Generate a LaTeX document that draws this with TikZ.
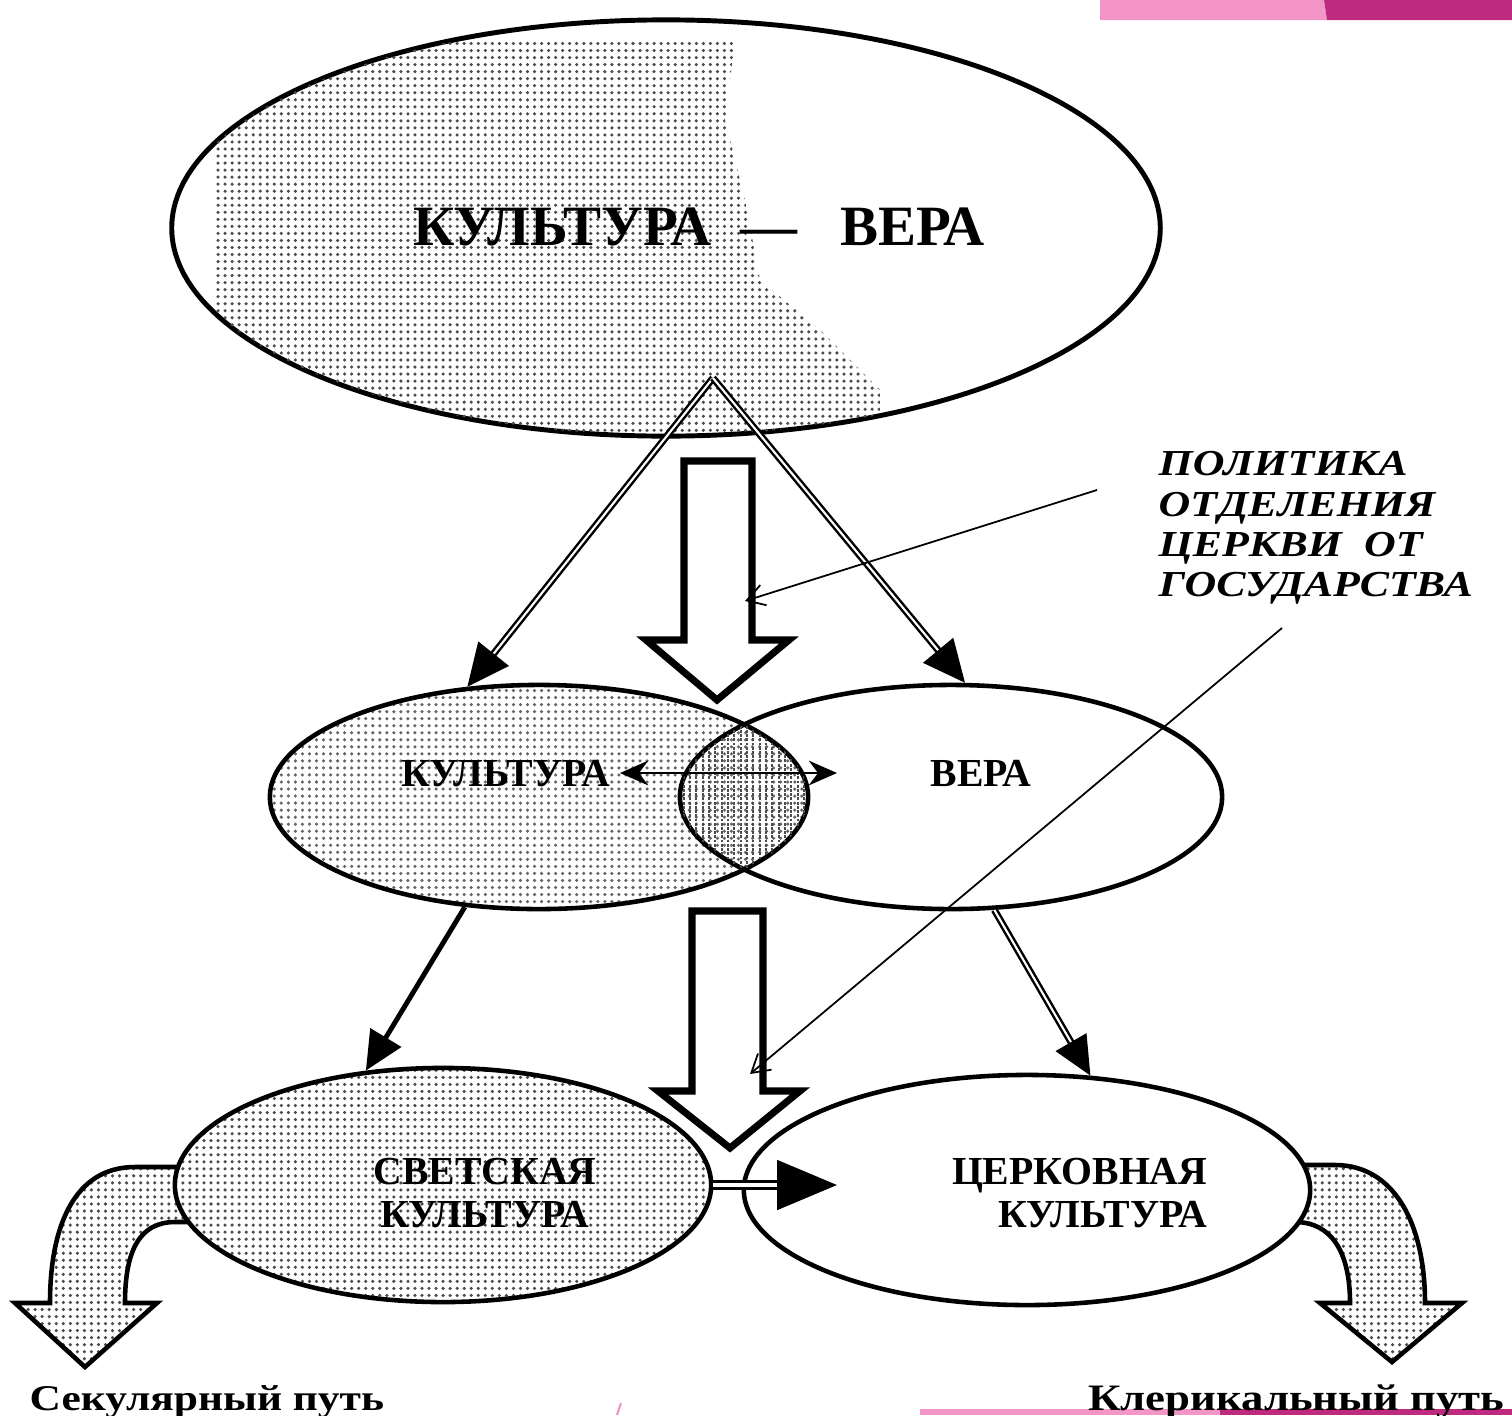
\documentclass[tikz,border=0pt]{standalone}
\usepackage{fontspec}
\setmainfont{Liberation Serif}
\newfontfamily\widefont[FakeStretch=1.2]{Liberation Serif}
\usetikzlibrary{shapes.geometric,arrows.meta,patterns}

\definecolor{pinklight}{HTML}{F495C8}
\definecolor{pinkdark}{HTML}{BE2A7E}

% halftone dots for the shaded ovals
\pgfdeclarepatternformonly{stipple}{\pgfqpoint{-1pt}{-1pt}}{\pgfqpoint{1pt}{1pt}}{\pgfqpoint{2pt}{2pt}}{%
  \pgfpathcircle{\pgfpointorigin}{0.5pt}\pgfusepath{fill}}
\pgfdeclarepatternformonly{vstipple}{\pgfqpoint{-0.9pt}{-0.6pt}}{\pgfqpoint{0.9pt}{0.6pt}}{\pgfqpoint{1.8pt}{1.2pt}}{%
  \pgfpathrectangle{\pgfqpoint{-0.3pt}{-0.4pt}}{\pgfqpoint{0.6pt}{0.8pt}}\pgfusepath{fill}}

\begin{document}
\begin{tikzpicture}[x=0.01cm, y=-0.01cm,
    oval/.style={draw, ellipse, line width=1.3pt, inner sep=0pt},
    twin/.style={double, line width=0.7pt, double distance=0.6pt},
    hollow/.style={draw, line width=2pt, fill=white, line join=miter},
    curly/.style={draw, line width=1.3pt, line join=miter, pattern=stipple, pattern color=black!70, preaction={fill=white}},
    pointer/.style={line width=0.5pt, -{Straight Barb[length=5pt, width=6pt]}},
    word/.style={inner sep=0pt, font=\bfseries\fontsize{11.3}{12.2}\selectfont}]

    \useasboundingbox (0,0) rectangle (1512,1415);

    % the pink slide decoration
    \fill[pinklight] (1100,0) -- (1324,0) -- (1327,20) -- (1100,20) -- cycle;
    \fill[pinkdark] (1324,0) -- (1512,0) -- (1512,20) -- (1327,20) -- cycle;
    \fill[pinklight] (920,1409) rectangle (1220,1415);
    \fill[pinkdark] (1220,1409) rectangle (1512,1415);
    \draw[pinklight, line width=0.6pt] (621,1403) -- (617,1415);

    % the big oval on top
    \node[oval, line width=1.4pt, minimum width=9.88cm, minimum height=4.16cm] (whole) at (666,228) {};
    \begin{scope}
        \clip (666,228) ellipse [x radius=4.93cm, y radius=2.07cm];
        \fill[pattern=stipple, pattern color=black!70] (215,40) -- (735,40) -- (725,120) -- (745,200) -- (760,280)
            -- (820,330) -- (880,390) -- (880,440) -- (215,440) -- cycle;
    \end{scope}
    \node[word, font=\bfseries\fontsize{16.2}{18}\selectfont, anchor=base] (wholetext) at (699,245) {КУЛЬТУРА\ \ —\ \ \ ВЕРА};

    % the two ovals in the middle
    \node[oval, minimum width=5.38cm, minimum height=2.24cm, pattern=stipple, pattern color=black!60] (cult) at (539,797) {};
    \node[oval, minimum width=5.42cm, minimum height=2.24cm] (faith) at (951,797) {};
    \begin{scope}
        \clip (539,797) ellipse [x radius=2.69cm, y radius=1.12cm];
        \fill[pattern=vstipple, pattern color=black!70] (951,797) ellipse [x radius=2.71cm, y radius=1.12cm];
    \end{scope}
    \node[word, anchor=base] (cultword) at (506,786) {КУЛЬТУРА};
    \node[word, anchor=base] (faithword) at (981,786) {ВЕРА};

    % curved arrows to the two paths
    \draw[curly] (200,1167) -- (135,1167) .. controls (75,1167) and (50,1225) .. (50,1303)
        -- (15,1303) -- (85,1367) -- (157,1303) -- (125,1303)
        .. controls (125,1250) and (140,1222) .. (175,1222) -- (200,1222) -- cycle;
    \draw[curly] (1290,1165) -- (1335,1165) .. controls (1395,1165) and (1425,1225) .. (1425,1303)
        -- (1462,1303) -- (1392,1362) -- (1320,1303) -- (1350,1303)
        .. controls (1350,1250) and (1330,1222) .. (1295,1222) -- (1290,1222) -- cycle;

    % the two ovals at the bottom
    \node[oval, minimum width=5.36cm, minimum height=2.34cm, preaction={fill=white}, pattern=stipple, pattern color=black!70] (secular) at (443,1185) {};
    \node[oval, fill=white, minimum width=5.66cm, minimum height=2.30cm] (church) at (1027,1190) {};
    \node[word, align=center] (secularword) at (485,1193) {СВЕТСКАЯ\\КУЛЬТУРА};
    \node[word, align=right, anchor=east] (churchword) at (1208,1193) {ЦЕРКОВНАЯ\\КУЛЬТУРА};

    % hollow arrows down the middle
    \draw[hollow] (684,461) -- (752,461) -- (752,640) -- (789,640) -- (717,700) -- (646,640) -- (684,640) -- cycle;
    \draw[hollow] (692,911) -- (763,911) -- (763,1091) -- (800,1091) -- (730,1148) -- (658,1091) -- (692,1091) -- cycle;

    % arrows between the ovals
    \coordinate (apex) at (713,378);
    \draw[twin, -{Triangle[length=12pt, width=11pt]}] (apex) -- (cult.123);
    \draw[twin, -{Triangle[length=12pt, width=11pt]}] (apex) -- (faith.83);
    \draw[line width=1.4pt, -{Triangle[length=11pt, width=10pt]}] (cult.236) -- (secular.124);
    \draw[twin, -{Triangle[length=11pt, width=10pt]}] (faith.291) -- (church.61);

    \coordinate (joinhead) at (837,1185);
    \draw[twin, line width=1.1pt, double distance=0.9pt, -{Triangle[length=17pt, width=14pt]}] (secular.east) -- (joinhead);

    \coordinate (leftend) at (620,773);
    \coordinate (rightend) at (837,773);
    \draw[line width=0.8pt, {Stealth[length=8pt, width=7pt]}-{Stealth[length=8pt, width=7pt]}] (leftend) -- (rightend);

    % the policy label and its pointers
    \node[word, font=\widefont\bfseries\itshape\fontsize{10.4}{11.4}\selectfont, align=left, anchor=north west] (policy) at (1158,451)
        {ПОЛИТИКА\\ОТДЕЛЕНИЯ\\ЦЕРКВИ\ \ ОТ\\ГОСУДАРСТВА};
    \coordinate (tail1) at (1097,490);
    \coordinate (head1) at (745,601);
    \coordinate (tail2) at (1282,628);
    \coordinate (head2) at (750,1074);
    \draw[pointer] (tail1) -- (head1);
    \draw[pointer] (tail2) -- (head2);

    % the two paths
    \node[word, font=\widefont\bfseries\fontsize{10.3}{13}\selectfont, anchor=base west] (secularpath) at (29,1410) {Секулярный путь};
    \node[word, font=\widefont\bfseries\fontsize{10.6}{13}\selectfont, anchor=base east] (clericalpath) at (1505,1410) {Клерикальный путь};

\end{tikzpicture}
\end{document}
